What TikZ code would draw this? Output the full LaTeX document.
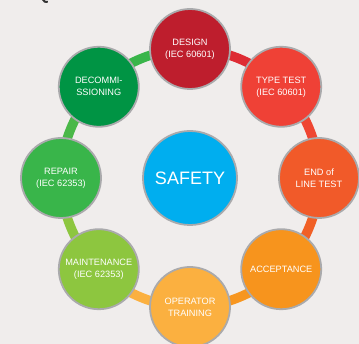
\documentclass[tikz,border=0pt]{standalone}
\usepackage{fontspec}
\setmainfont{Liberation Sans}
\usetikzlibrary{calc}
\pgfdeclarelayer{back}
\pgfdeclarelayer{ringlayer}
\pgfsetlayers{back,ringlayer,main}
\definecolor{bg}{RGB}{240,237,236}
\definecolor{rimgrey}{RGB}{170,170,172}
\definecolor{cdesign}{RGB}{190,30,45}
\definecolor{ctype}{RGB}{239,65,54}
\definecolor{ceol}{RGB}{241,90,41}
\definecolor{caccept}{RGB}{247,148,29}
\definecolor{coper}{RGB}{251,176,64}
\definecolor{cmaint}{RGB}{141,198,63}
\definecolor{crepair}{RGB}{57,181,74}
\definecolor{cdecomm}{RGB}{0,148,68}
\definecolor{csafety}{RGB}{0,174,239}
\definecolor{rdt}{RGB}{222,44,52}
\definecolor{rte}{RGB}{239,70,50}
\definecolor{rea}{RGB}{241,96,38}
\definecolor{rao}{RGB}{247,150,32}
\definecolor{rom}{RGB}{251,176,64}
\definecolor{rmr}{RGB}{141,198,63}
\definecolor{rrd}{RGB}{74,184,72}
\definecolor{rdd}{RGB}{57,181,74}
\begin{document}
\begin{tikzpicture}[x=1pt,y=1pt,
  stage/.style={circle, draw=rimgrey, line width=1.8pt, minimum size=80pt,
    inner sep=0pt, text=white, align=center,
    font=\fontsize{9.2}{12}\selectfont},
  hub/.style={circle, draw=rimgrey, line width=1.8pt, minimum size=94pt,
    inner sep=0pt, text=white, fill=csafety,
    font=\fontsize{18}{20}\selectfont},
  ring/.style={line width=9.5pt}]
\begin{pgfonlayer}{back}
\fill[bg] (0,0) rectangle (359,344);
% fragment of a cut-off heading glyph at the top edge
\fill[black!80] (42,344) .. controls (43,341.5) and (45,340.5) .. (47.5,341)
  -- (48,343) .. controls (46,342.8) and (45,343.3) .. (44.5,344) -- cycle;
\end{pgfonlayer}
\useasboundingbox (0,0) rectangle (359,344);
\coordinate (c) at (190,166);
\node[hub] (safety) at (c) {SAFETY};
\node[stage, fill=cdesign] (design) at ($(c)+(90:129)$) {DESIGN\\(IEC 60601)};
\node[stage, fill=ctype] (type) at ($(c)+(45:129)$) {TYPE TEST\\(IEC 60601)};
\node[stage, fill=ceol] (eol) at ($(c)+(0:129)$) {END of\\LINE TEST};
\node[stage, fill=caccept] (accept) at ($(c)+(-45:129)$) {ACCEPTANCE};
\node[stage, fill=coper] (oper) at ($(c)+(-90:129)$) {OPERATOR\\TRAINING};
\node[stage, fill=cmaint] (maint) at ($(c)+(-135:129)$) {MAINTENANCE\\(IEC 62353)};
\node[stage, fill=crepair] (repair) at ($(c)+(180:129)$) {REPAIR\\(IEC 62353)};
\node[stage, fill=cdecomm] (decomm) at ($(c)+(135:129)$) {DECOMMI-\\SSIONING};
\begin{pgfonlayer}{ringlayer}
\draw[ring, rdt] (design.center) arc[start angle=90, end angle=45, radius=129];
\draw[ring, rte] (type.center) arc[start angle=45, end angle=0, radius=129];
\draw[ring, rea] (eol.center) arc[start angle=0, end angle=-45, radius=129];
\draw[ring, rao] (accept.center) arc[start angle=-45, end angle=-90, radius=129];
\draw[ring, rom] (oper.center) arc[start angle=-90, end angle=-135, radius=129];
\draw[ring, rmr] (maint.center) arc[start angle=-135, end angle=-180, radius=129];
\draw[ring, rrd] (repair.center) arc[start angle=180, end angle=135, radius=129];
\draw[ring, rdd] (decomm.center) arc[start angle=135, end angle=90, radius=129];
\end{pgfonlayer}
\end{tikzpicture}
\end{document}
